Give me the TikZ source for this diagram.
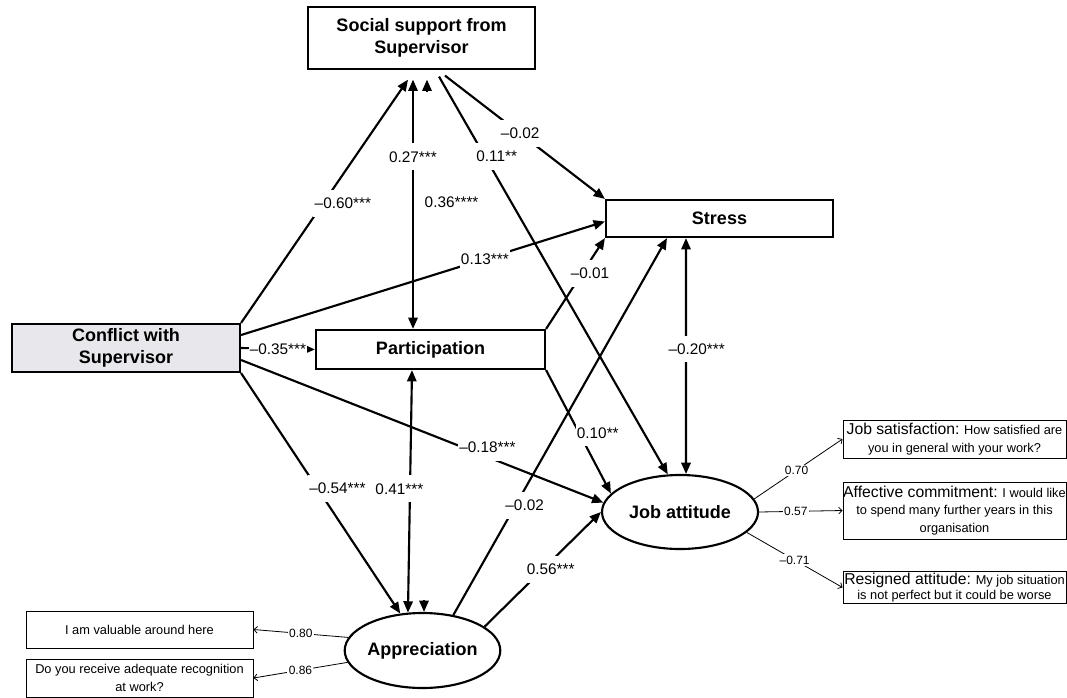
\documentclass[tikz,border=0pt]{standalone}
\usepackage{fontspec}
\setmainfont{Liberation Sans}
\setsansfont{Liberation Sans}
\usepackage{tikz}
\usetikzlibrary{arrows.meta,calc,shapes.geometric}
\definecolor{confGray}{HTML}{E8E8EC}

\begin{document}
\begin{tikzpicture}[x=0.75pt, y=-0.75pt,
  font=\sffamily,
  box/.style={draw, align=center, inner sep=2pt, line width=1.6pt,
    font=\sffamily\bfseries\fontsize{13.5}{16.5}\selectfont},
  latent/.style={ellipse, draw, inner sep=0pt, line width=1.6pt,
    font=\sffamily\bfseries\fontsize{13.5}{16.5}\selectfont},
  indic/.style={draw, align=center, inner xsep=0pt, inner ysep=1pt, line width=0.7pt,
    minimum width=167.25pt, font=\sffamily\fontsize{9.6}{13}\selectfont},
  lbl/.style={fill=white, inner xsep=1pt, inner ysep=6pt,
    font=\sffamily\fontsize{11.5}{13}\selectfont},
  ldg/.style={fill=white, inner sep=1pt, font=\sffamily\fontsize{9}{10}\selectfont},
  link/.style={line width=1.6pt, -{Triangle[length=8.5pt,width=7pt]}},
  twoway/.style={line width=1.6pt,
    {Triangle[length=8.5pt,width=7pt]}-{Triangle[length=8.5pt,width=7pt]}},
  load/.style={line width=0.6pt, -{Straight Barb[length=2.5pt,width=5pt]}},
]
\useasboundingbox (0,0) rectangle (1067,697);
% constructs
\node[box, line width=0.9pt, minimum width=170.25pt, minimum height=46.5pt] (ssup) at (421.5,38) {Social support from\\Supervisor};
\node[box, minimum width=170.25pt, minimum height=27.75pt] (stress) at (719.5,218.5) {Stress};
\node[box, fill=confGray, minimum width=171pt, minimum height=36pt] (conf) at (126,348) {Conflict with\\Supervisor};
\node[box, minimum width=171.75pt, minimum height=29.25pt] (part) at (430.5,349.5) {Participation};
\node[latent, minimum width=117pt, minimum height=55.5pt] (jobatt) at (680,512) {Job attitude};
\node[latent, minimum width=111.75pt, minimum height=56.25pt] (apprec) at (422.5,650.5) {Appreciation};
% indicators
\node[indic, minimum height=28.5pt] (sat) at (954.5,439) {{\fontsize{11.8}{13}\selectfont Job satisfaction:} How satisfied are\\you in general with your work?};
\node[indic, minimum height=42.75pt] (aff) at (954.5,510.5) {{\fontsize{11.8}{13}\selectfont Affective commitment:} I would like\\to spend many further years in this\\organisation};
\node[indic, minimum height=23.25pt] (res) at (954.5,587.5) {{\fontsize{11.8}{13}\selectfont Resigned attitude:} My job situation\\[-2pt]is not perfect but it could be worse};
\node[indic, minimum width=170.25pt, minimum height=27.75pt] (val) at (139.5,629.5) {I am valuable around here};
\node[indic, minimum width=170.25pt, minimum height=28.5pt] (recog) at (139.5,678) {Do you receive adequate recognition\\at work?};
% structural paths
\draw[link] (conf.north east) -- ($(ssup.south)+(-13.5,10)$) node[lbl, pos=0.49, xshift=15pt] {\textendash0.60***};
\draw[twoway] ($(ssup.south)+(-8.5,10)$) -- ($(part.north)+(-17.5,0)$)
  node[lbl, pos=0.31] {0.27***}
  node[lbl, pos=0.49, anchor=west, xshift=7pt] {0.36****};
\draw[link] ($(ssup.south)+(5.5,22)$) -- ($(ssup.south)+(5.5,10)$);
\draw[link] ($(ssup.south)+(23.5,6)$) -- (stress.north west) node[lbl, pos=0.47] {\textendash0.02};
\draw[link] ($(ssup.south)+(17.5,7)$) -- (jobatt.108) node[lbl, pos=0.2, xshift=9pt] {0.11**};
\draw[link] ($(conf.east)+(0,-13)$) -- ($(stress.west)+(0,3)$) node[lbl, pos=0.67] {0.13***};
\draw[link] (conf.east) -- (part.west) node[lbl, pos=0.5] {\textendash0.35***};
\draw[link] ($(conf.east)+(0,12)$) -- (jobatt.173) node[lbl, pos=0.68, yshift=7pt] {\textendash0.18***};
\draw[link] (conf.south east) -- (apprec.121) node[lbl, pos=0.48, xshift=15pt] {\textendash0.54***};
\draw[twoway] ($(part.south)+(-18.5,0)$) -- (apprec.111) node[lbl, pos=0.49, xshift=-8pt] {0.41***};
\draw[link] ($(apprec.north)+(1.5,-12)$) -- ($(apprec.north)+(1.5,0)$);
\draw[twoway] ($(stress.south)+(-33.5,0)$) -- (jobatt.81) node[lbl, pos=0.47, xshift=8pt] {\textendash0.20***};
\draw[link] (part.north east) -- (stress.south west) node[lbl, pos=0.61, xshift=6pt] {\textendash0.01};
\draw[link] (part.south east) -- (jobatt.165) node[lbl, pos=0.51, xshift=14pt] {0.10**};
\draw[link] (apprec.49) -- ($(stress.south)+(-52.5,0)$) node[lbl, pos=0.29, xshift=7pt] {\textendash0.02};
\draw[link] (apprec.21) -- (jobatt.west) node[lbl, pos=0.5, xshift=6pt] {0.56***};
% loadings
\draw[load] (apprec.170) -- (val.east) node[ldg, pos=0.5] {0.80};
\draw[load] (apprec.189) -- (recog.east) node[ldg, pos=0.5] {0.86};
\draw[load] (jobatt.10) -- (sat.west) node[ldg, pos=0.48] {0.70};
\draw[load] (jobatt.east) -- (aff.west) node[ldg, pos=0.44] {0.57};
\draw[load] (jobatt.343) -- (res.west) node[ldg, pos=0.5] {\textendash0.71};
\end{tikzpicture}
\end{document}
